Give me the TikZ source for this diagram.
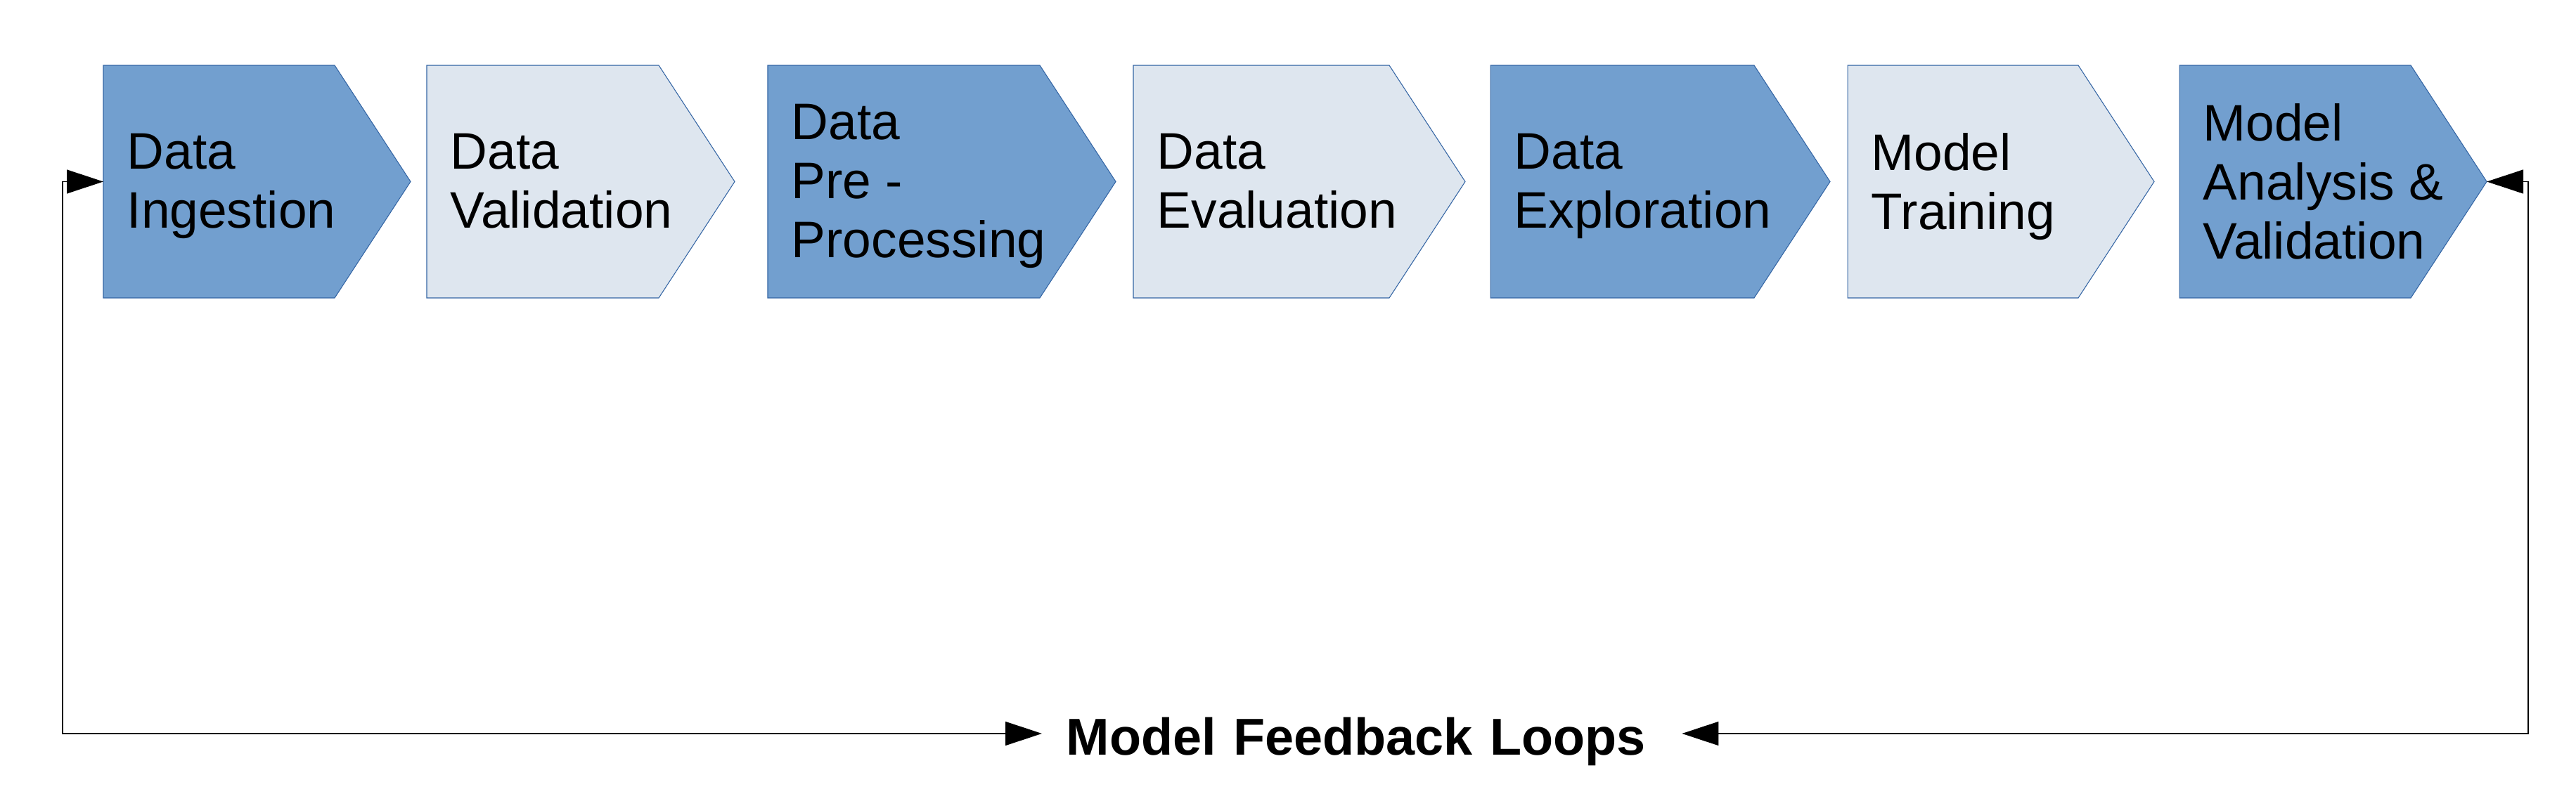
\documentclass[tikz,border=0pt]{standalone}
\usepackage{fontspec}
\setmainfont{Liberation Sans}
\usetikzlibrary{arrows.meta}
\definecolor{stagedark}{HTML}{729FCF}
\definecolor{stagelight}{HTML}{DEE6EF}
\definecolor{stageedge}{HTML}{3465A4}
\newcommand\lostrut{\rule[-0.212em]{0pt}{1.117em}}
\begin{document}
\begin{tikzpicture}[font=\fontsize{20.8pt}{23.9pt}\selectfont,
  stage/.style={anchor=west, align=left, inner xsep=0.33cm, inner ysep=0pt, yshift=-0.07cm,
    execute at begin node=\lostrut, execute at end node=\lostrut},
  feedback/.style={line width=0.4pt,
    {Triangle[length=0.52cm,width=0.34cm]}-{Triangle[length=0.52cm,width=0.34cm]}}]
\useasboundingbox (0,0) rectangle (36.64,-11.3);
\foreach \x/\w/\c/\n/\lbl in {1.47/3.29/stagedark/ing/{Data\\Ingestion},
  6.07/3.30/stagelight/val/{Data\\Validation},
  10.92/3.87/stagedark/pre/{Data\\Pre -\\Processing},
  16.12/3.64/stagelight/eva/{Data\\Evaluation},
  21.20/3.75/stagedark/exp/{Data\\Exploration},
  26.28/3.28/stagelight/tra/{Model\\Training},
  31.00/3.29/stagedark/mav/{Model\\Analysis \&\\Validation}}
{
\fill[\c, draw=stageedge, line width=0.3pt] (\x,-0.93) -- (\x+\w,-0.93) -- (\x+\w+1.08,-2.585) -- (\x+\w,-4.24) -- (\x,-4.24) -- cycle;
\node[stage] (\n) at (\x,-2.585) {\lbl};
\coordinate (\n-tip) at (\x+\w+1.08,-2.585);
}

\coordinate (cl) at (0.89,-10.44);
\coordinate (cr) at (35.96,-10.44);
\node[font=\fontsize{21pt}{24pt}\selectfont\bfseries, anchor=west, align=left, text width=8.41cm,
  inner xsep=0.34cm, text height=22pt, text depth=4.4pt] (fb) at (14.82,-10.44) {Model Feedback Loops};
\draw[feedback] (fb.west) -- (cl) |- ([yshift=0.07cm]ing.west);
\draw[feedback] (fb.east) -- (cr) |- (mav-tip);
\end{tikzpicture}
\end{document}
